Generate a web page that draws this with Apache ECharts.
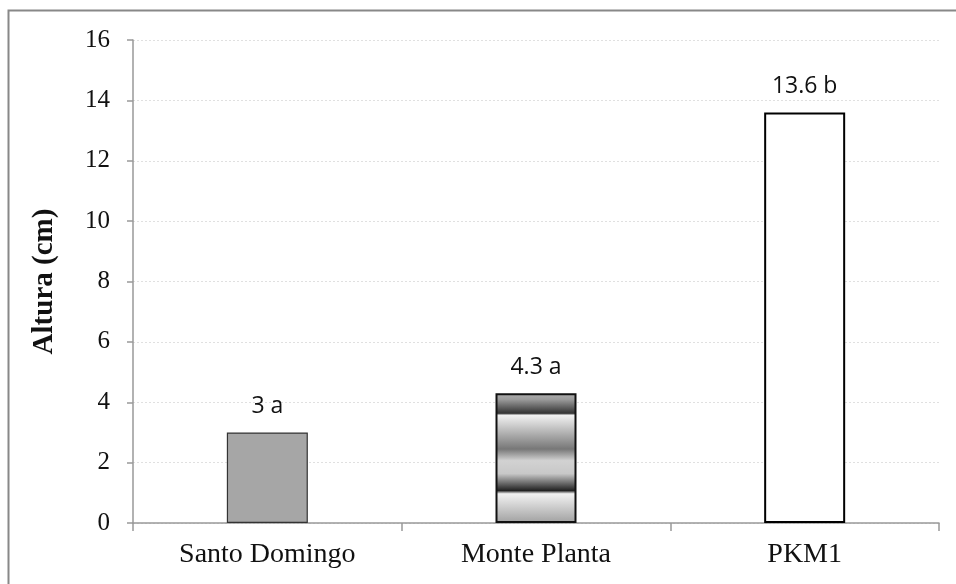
<!DOCTYPE html>
<html>
<head>
<meta charset="utf-8">
<script src="https://cdn.jsdelivr.net/npm/echarts@6/dist/echarts.min.js"></script>
<style>html,body{margin:0;padding:0;background:#fff}#c{width:956px;height:584px}</style>
</head>
<body>
<div id="c"></div>
<script>
const categories = ['Santo Domingo', 'Monte Planta', 'PKM1'];
const values = [3, 4.3, 13.6];
const letters = ['a', 'a', 'b'];
const yTicks = [0, 2, 4, 6, 8, 10, 12, 14, 16];

const chart = echarts.init(document.getElementById('c'));
const stripe = new echarts.graphic.LinearGradient(0, 0, 0, 1, [
  {offset: 0, color: '#b0b0b0'},
  {offset: 0.05, color: '#999999'},
  {offset: 0.155, color: '#333333'},
  {offset: 0.17, color: '#f2f2f2'},
  {offset: 0.43, color: '#777777'},
  {offset: 0.52, color: '#d2d2d2'},
  {offset: 0.62, color: '#c8c8c8'},
  {offset: 0.75, color: '#222222'},
  {offset: 0.775, color: '#f2f2f2'},
  {offset: 1, color: '#a0a0a0'}
]);
const styles = [
  {color: '#a6a6a6', borderColor: '#333', borderWidth: 1.2},
  {color: stripe, borderColor: '#111', borderWidth: 2},
  {color: '#ffffff', borderColor: '#000', borderWidth: 2}
];
chart.setOption({
  animation: false,
  graphic: [{
    type: 'rect', shape: {x: 8.5, y: 10.5, width: 1000, height: 1000},
    style: {fill: 'none', stroke: '#888', lineWidth: 2}, silent: true, z: -1
  }],
  grid: {left: 133, right: 17, top: 40, bottom: 61, containLabel: false},
  xAxis: {
    type: 'category', data: categories,
    axisLine: {lineStyle: {color: '#999', width: 1.5}},
    axisTick: {show: true, length: 8, lineStyle: {color: '#999', width: 1.5}},
    axisLabel: {fontFamily: 'Liberation Serif', fontSize: 28, color: '#111', margin: 18}
  },
  yAxis: {
    type: 'value', min: yTicks[0], max: yTicks[yTicks.length - 1], interval: 2,
    name: 'Altura (cm)', nameLocation: 'middle', nameGap: 74,
    nameTextStyle: {fontFamily: 'Liberation Serif', fontSize: 29, fontWeight: 'bold', color: '#111'},
    axisLine: {show: true, lineStyle: {color: '#999', width: 1.5}},
    axisTick: {show: true, length: 6, lineStyle: {color: '#999', width: 1.5}},
    axisLabel: {fontFamily: 'Liberation Serif', fontSize: 25, color: '#111', margin: 23},
    splitLine: {show: true, lineStyle: {color: '#e0e0e0', type: [2, 2], width: 1}}
  },
  series: [{
    type: 'bar', barWidth: 81,
    data: values.map((v, i) => ({value: v, itemStyle: styles[i]})),
    label: {
      show: true, position: 'top', distance: 14,
      fontFamily: 'Open Sans', fontSize: 23, color: '#111',
      formatter: p => p.value + ' ' + letters[p.dataIndex]
    }
  }]
});
</script>
</body>
</html>
